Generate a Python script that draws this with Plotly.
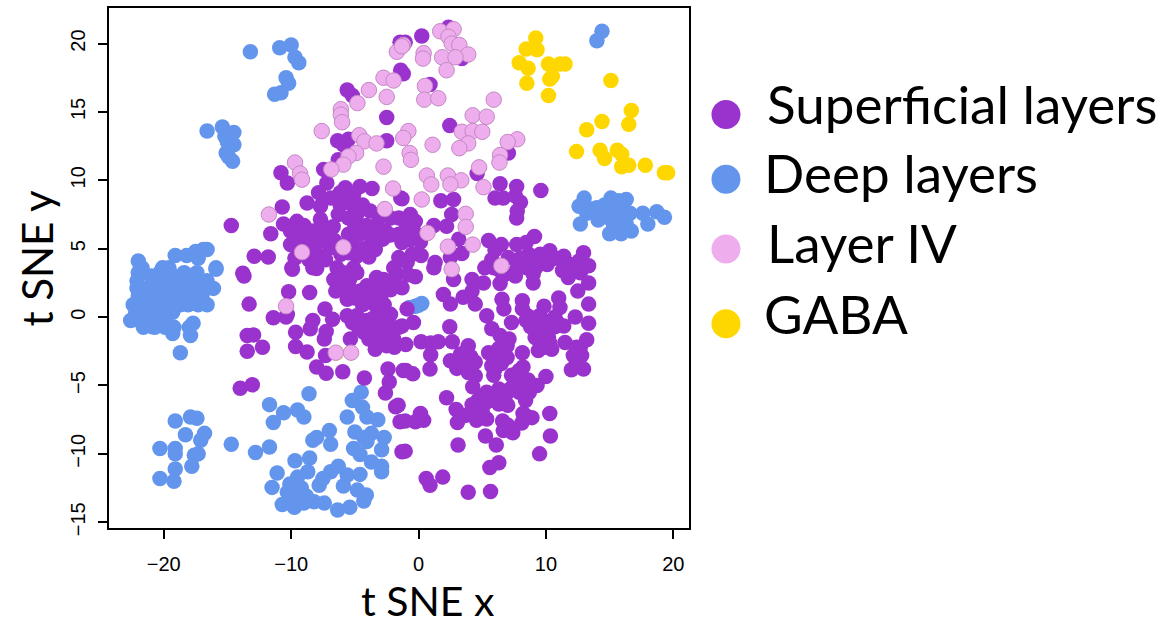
import plotly.graph_objects as go

superficial = [
(-5.6,16.6),(-5.2,16.2),(-2.5,14.6),(-2.5,12.9),(-6.35,12.9),(-5.5,13),(-5.9,12.6),(-6.3,11.5),(-7.45,10.8),
(-10.8,10.55),(-10.3,9.8),(-10.7,8.05),(-14.7,6.7),(-11.6,6.1),(-12.9,4.45),(-11.8,4.4),(-13.8,3.2),(-13.7,3.0),
(-7.2,9.8),(-7.85,9.1),(-8.75,8.35),(-7.7,8.1),(-5.75,9.45),(-4.6,9.55),(-3.65,9.4),(-5.1,8.95),(-6.15,9.1),
(-6.15,8.2),(-5.1,8.1),(-3.8,7.75),(-6.3,7.5),(-5.5,7.25),(-4.85,7.5),(-7.7,7.15),(-9.55,7),(-10.6,6.8),
(-10.05,6.3),(-9.3,6.05),(-8.25,6.3),(-7.6,6.8),(-3.25,6.8),(-2.6,6.3),(-2.2,7.25),(-1.55,7.25),(-1.55,6.05),
(-10.05,5.3),(-8.25,5.3),(-7.2,6.05),(-6.95,5.05),(-5.5,6.05),(-4.6,6.05),(-3.65,5.55),(-3.4,4.95),(-4.85,4.45),
(-8.6,4.2),(-7.95,4.6),(-9.95,3.6),(-8.3,3.6),(-6.4,3.6),(-5.1,3.6),(-1.55,4.35),(-1.95,3.6),(-1.4,8.7),
(-1.4,18.05),(-1.45,20.1),(-9.3,5.6),(-8.9,4.9),(-5.2,5.3),(-6.1,4.6),(-2.8,5.7),(-9.7,4.3),(-3.0,7.4),(-2.2,6.0),
(-6.9,8.7),(-5.7,8.4),(-4.4,8.2),(-6.7,6.6),(-5.0,6.7),(-4.1,6.7),(-3.6,6.2),(-9.0,6.7),(-8.8,5.9),(-9.6,5.2),
(-7.7,5.6),(-6.6,5.6),(-4.3,5.0),(-5.5,4.7),(-7.3,4.2),(-3.9,4.4),
(0.25,20.55),(2.35,21.2),(-1.05,20.1),(-1.2,17.8),(0.9,17),(3.4,18.9),(2.45,14),(7.05,12),(4.6,10.5),(6.4,9.75),
(7.7,9.55),(6,8.7),(6.65,8.7),(7.6,8.85),(8,8.4),(7.75,7.75),(7.7,7.25),(9.6,9.25),(-1.3,8.65),(1.75,8.5),
(2.75,8.6),(2.6,7.5),(2.2,6.65),(1.2,6.7),(-0.65,7.5),(-0.25,7),(-1.05,7),(-1.05,6.3),(-0.65,5.65),(0.15,5.5),
(-1.3,5.45),(3.15,5.7),(2.5,4.35),(3.4,4.65),(1.3,4),(-0.9,4),(5.5,5.6),(6.5,5.3),(7.7,5.3),(8.45,5.45),(9.1,5.9),
(8.65,4.6),(9.55,4.6),(10.3,4.85),(11.4,4.45),(12.95,4.7),(5.75,4.2),(7.05,4.35),(8.5,3.6),(7.7,3.5),(10.1,3.85),
(11.9,3.85),(13.35,3.75),(5.9,3.6),(-0.6,6.6),(-0.2,6.1),(9.0,4.1),(6.7,3.1),(-0.5,4.6),
(6.0,4.9),(5.2,3.6),(6.4,3.4),(8.0,4.3),(9.2,3.6),(10.7,4.3),(11.3,3.4),(12.6,4.1),
(-9.9,3.5),(-8,3.55),(-10.2,1.85),(-8.55,1.8),(-13.3,0.95),(-10.3,0.2),(-11.4,-0.05),(-9.65,-1.1),(-8.3,-0.25),
(-8.5,-0.85),(-7.35,0.6),(-6.75,-0.15),(-7.25,-1.05),(-7.4,-1.6),(-9.65,-2.15),(-8.75,-2.55),(-7.3,-2.8),(-8,-3.65),
(-7.25,-4.1),(-5.95,-4.0),(-4.25,-4.45),(-13.45,-1.35),(-12.95,-1.3),(-12.25,-2.2),(-13.45,-2.5),(-14,-5.2),
(-13.05,-4.95),(-2.4,-3.8),(-2.3,-4.75),(-2.6,-5.55),(-1.8,-6.55),(-1.45,-7.65),(-1.3,-9.85),(-1.2,-3.9),
(-6.65,2.75),(-5.9,3.25),(-4.85,3.25),(-6.5,1.9),(-5.5,2.3),(-5.6,1.3),(-4.05,2.3),(-3.8,1.45),(-2.75,2.75),
(-2.2,2),(-1.7,3.15),(-3.15,0.6),(-2.2,0.2),(-5.6,0.1),(-4.85,0.1),(-4.05,-0.25),(-5.35,-1.6),(-4.3,-1.1),(-3,-1.35),
(-1.95,-1.6),(-3.4,-2.35),(-2.5,-2.1),(-2.75,-0.5),(-1.55,-0.75),(-3.5,0.95),(-3.3,2.9),(-4.6,1.9),(-6.2,2.4),
(-4.4,-0.6),(-3.2,-0.4),(-2.9,1.7),(-10.4,0.0),
(-6.2,3.0),(-5.4,2.8),(-6.0,2.1),(-5.0,1.4),(-3.1,2.3),(-2.4,2.6),(-1.9,2.3),(-3.4,1.4),(-4.4,0.9),(-2.7,0.9),
(-2.8,0.1),(-3.6,-0.1),(-5.2,-0.4),(-4.7,-0.8),(-3.6,-0.9),(-2.5,-1.3),(-2.2,-0.7),(-3.0,-2.0),(-3.9,-1.6),(-1.9,-2.2),
(-0.25,2.95),(-1.3,2.15),(1.2,3.6),(2.75,2.75),(1.95,1.65),(2.5,0.95),(3.5,1.45),(4.2,1.9),(4.2,2.75),(5.1,2.5),
(4.45,0.95),(6.4,2.45),(7.6,3),(9,3.15),(9,2.5),(11.75,2.9),(12.7,3.25),(13.35,2.5),(12.5,1.9),(13.35,0.95),
(13.35,-0.45),(13.2,-1.65),(6.55,1.3),(8.15,1.2),(9.85,0.8),(11,1.4),(11.1,0.7),(12.3,0.0),(5.35,0.1),(6.7,0.6),
(7.3,-0.4),(8.15,0.6),(8.45,-0.25),(10.7,0),(11.4,-0.65),(9.7,-0.65),(9.15,-1.5),(10.2,-1.5),(5.75,-0.85),(6.4,-1.35),
(6.95,-2.1),(2.45,-0.7),(-1.3,-0.65),(0.2,-1.8),(1.55,-1.8),(0.95,-2.75),(2.65,-1.8),(3.9,-2.1),(3.3,-2.7),(2.5,-3.2),
(3,-3.75),(4.45,-3.3),(3.9,-4.05),(4.45,-4.3),(4.25,-5.1),(5.5,-2.6),(6.95,-2.95),(5.75,-3.55),(5.9,-4.25),(8.15,-2.6),
(9.4,-2.45),(10.45,-2.35),(11.5,-1.85),(12.7,-2.2),(12.15,-2.8),(12.8,-2.8),(12,-3.85),(12.95,-3.8),(12.4,-3.4),
(-1,-3.9),(-0.45,-4.15),(0.9,-3.8),(8.2,-3.65),(7.3,-4.25),(8.1,-4.5),(10,-4.35),(9.3,-5),(8.4,-5),(7.2,-5.25),
(6.3,-5.25),(5.35,-5.5),(4.65,-6.1),(5.35,-6.2),(6.3,-6.35),(7,-6.45),(8.4,-6.1),(2.2,-5.9),(2.95,-6.75),(3.65,-7.2),
(3.05,-7.7),(4.55,-7.55),(5.35,-7.45),(4.85,-6.8),(8.2,-7.05),(8.9,-7.35),(8.1,-7.75),(10.3,-7.05),(6.6,-7.6),
(6.65,-8.3),(7.4,-8.45),(5.25,-8.7),(6.1,-9.35),(3.1,-9.35),(10.35,-8.7),(9.5,-10),(-1.05,-9.8),(6.3,-10.65),
(5.6,-11),(1.9,-11.7),(0.6,-11.8),(0.9,-12.3),(3.9,-12.8),(5.65,-12.75),(0.15,-7.05),(0.4,-7.55),(-0.25,-7.65),
(-1.05,-7.6),(-1.6,-6.45),(0.95,-1.9),(10.9,-0.4),(9.5,0.1),(-1.0,-2.0),(-0.9,0.6),(-0.4,-0.4),(-0.8,3.1),(0.2,4.5),
(3.6,-2.6),(4.1,-2.9),(4.0,-3.5),(3.5,-3.4),(5.9,-3.0),(6.2,-2.7),(6.0,-3.8),(6.5,-3.4),(7.5,-4.9),(7.9,-5.5),
(6.9,-5.6),(5.9,-5.7),(5.0,-5.8),(5.7,-6.0),(5.0,-6.6),(4.4,-7.0),(5.0,-7.0),(4.2,-6.4),(8.7,-5.5),(8.5,-5.6),
(8.6,-4.6),(7.9,-3.9),(8.4,-7.2),(9.9,-0.8),(9.6,-1.3),(9.3,-1.0),(10.0,-0.3),(10.7,-0.7),(10.3,-1.9),(9.9,-2.2),
(12.6,-3.0),(12.6,-3.6),(12.4,-2.2),(7,-7.9),(6.3,-2.3),(7.1,-1.6),(8.55,0.1),(8.8,-0.7),
]

deep = [
(-13.2,19.4),(-10.9,19.7),(-10.0,19.9),(-9.7,19.0),(-9.4,18.6),(-10.4,17.5),(-10.2,17.1),(-10.8,16.4),(-11.3,16.3),
(-16.6,13.6),(-15.4,13.9),(-14.5,13.5),(-15.2,13.2),(-14.5,12.6),(-15.1,12.0),(-14.6,11.4),(-14.9,11.7),(-15.0,12.8),
(14.4,20.9),(14.0,20.2),(13.0,8.7),(12.6,8.1),(12.7,6.8),(13.6,7.9),(14.1,7.1),(14.6,8.2),(15.1,8.7),(15.7,8.5),
(16.3,8.6),(15.3,7.7),(15.9,7.9),(16.6,7.6),(15.7,7.0),(16.3,6.8),(16.7,6.3),(15.9,6.1),(15.0,6.1),(15.3,6.5),
(17.6,7.6),(18.0,6.8),(18.7,7.7),(19.3,7.3),(14.5,7.5),(14,8.0),(15,7.2),(16,7.3),(15.3,6.9),(13.2,7.6),
(-22.0,4.1),(-21.7,3.6),(-19.1,4.5),(-20.1,3.6),(-19.6,3.6),(-18.2,4.5),(-17.5,4.8),(-16.9,4.95),(-16.6,4.95),
(-17.3,4.3),(-15.9,3.6),(-22,3.25),(-20.3,3.25),(-19.5,3.25),(-18.4,3.25),(-17.4,3.25),(-22.1,2.65),(-20.7,2.65),
(-19.7,2.65),(-18.7,2.65),(-17.9,2.65),(-16.6,2.65),(-22.1,2.1),(-21.3,2.1),(-20.3,2.1),(-19.2,2.1),(-18.2,2.1),
(-17.2,2.1),(-16.1,2.1),(-22,1.55),(-21,1.55),(-20,1.55),(-19,1.55),(-18,1.55),(-22.4,0.9),(-21.6,0.9),(-20.7,0.9),
(-19.7,0.9),(-18.7,0.9),(-18.1,0.9),(-16.6,0.9),(-17.3,0.9),(-22.2,0.35),(-21.3,0.35),(-20.4,0.35),(-19.3,0.35),
(-22.6,-0.25),(-21.9,-0.25),(-20.8,-0.25),(-19.9,-0.25),(-21.6,-0.75),(-20.7,-0.75),(-19.9,-0.75),(-19.2,-0.75),
(-19.3,-1.2),(-17.7,-0.45),(-18,-0.75),(-17.9,-1.35),(-18.7,-2.6),(-15.9,3.5),
(-21.0,3.0),(-21.5,1.0),(-18.0,3.0),(-17.1,2.6),(-17,1.6),(-17.0,1.3),(-20.9,-0.7),(-21.2,-0.3),
(-19.1,-7.6),(-17.9,-7.3),(-17.4,-7.4),(-18.3,-8.6),(-16.8,-8.5),(-17.1,-9.0),(-20.3,-9.6),(-19.1,-9.6),(-19.1,-10.0),
(-17.6,-10.1),(-17.3,-10.0),(-19.1,-11.1),(-17.8,-10.9),(-20.3,-11.8),(-19.2,-12.0),(-14.7,-9.3),(-12.8,-9.9),
(-11.7,-9.5),(-8.6,-5.6),(-11.7,-6.4),(-10.6,-7.0),(-11.4,-7.7),(-9.5,-6.8),(-9.0,-7.3),(-4.5,-5.5),(-5.2,-6.1),
(-4.4,-6.6),(-5.6,-7.3),(-4.05,-7.3),(-3.2,-7.5),(-7,-8.3),(-8.0,-8.8),(-8.3,-9.0),(-6.9,-9.3),(-5,-8.4),(-4.3,-8.8),
(-3.7,-8.5),(-2.7,-8.8),(-2.9,-9.7),(-5.1,-9.6),(-4.6,-10.05),(-4.05,-9.1),(-3.7,-10.6),(-2.9,-10.9),(-2.9,-11.3),
(-9.7,-10.5),(-8.55,-10.3),(-8.7,-11.3),(-11.1,-11.4),(-11.5,-12.45),(-9.5,-11.7),(-10.1,-12.2),(-9.2,-12.5),
(-9.8,-13),(-10.7,-13.7),(-9.75,-13.9),(-9,-13.6),(-8.2,-13.5),(-7.4,-13.6),(-8.8,-13.1),(-7.8,-12.3),(-7.5,-11.8),
(-6.9,-11.3),(-6.3,-10.9),(-5.6,-11.55),(-4.6,-11.5),(-5.9,-12.35),(-4.8,-12.65),(-4.1,-13),(-4.3,-13.45),
(-5.4,-13.9),(-6.35,-14.1),(-10.3,-12.8),(-0.7,0.7),(-0.25,0.8),(0.25,1.0),(0,0.87),
]

gaba = [
(9.2,20.4),(8.45,19.6),(9.3,19.55),(7.9,18.6),(8.6,18.2),(10.2,18.5),(11.1,18.5),(11.5,18.5),(10.3,17.4),(10.5,17.6),
(8.5,17.1),(10.2,16.2),(15.1,17.3),(16.7,15.1),(16.5,14.1),(14.4,14.3),(13.2,13.7),(12.4,12.1),(14.25,12.2),
(14.6,11.6),(15.6,12.2),(15.95,11.9),(15.95,11.0),(16.5,11.1),(17.8,11.1),(19.3,10.55),(19.55,10.55),(-6.45,-2.6),
]

layer_iv = [
(-3.9,16.6),(-4.8,15.65),(-2.5,16.1),(-2.75,17.5),(-1.96,17.3),(-1.7,19.4),(-1.2,19.9),(-6.1,15.2),(-6.1,14.8),
(-6,14.25),(-7.6,13.6),(-4.65,13.3),(-4.25,12.85),(-3.3,12.7),(-2.75,11.0),(-4.9,12),(-5.5,11.75),(-5.9,11.15),
(-6.85,10.8),(-9.7,11.3),(-9.3,10.5),(-9.15,10.05),(-2.0,9.4),(-2.65,7.9),(-11.75,7.5),(-9.15,4.75),(-5.9,5.1),
(-10.4,0.8),(-6.5,-2.6),(-5.3,-2.6),
(1.7,20.9),(2.75,21.05),(2.35,20.5),(2.6,20),(3.2,19.9),(3.9,19.2),(1.85,19),(2.9,19),(2.2,18.05),(0.4,19.3),(0.35,18.9),
(-1.3,19.8),(0.5,16.9),(0.45,15.9),(1.55,16),(5.9,15.9),(4.25,14.75),(5.35,14.65),(-0.8,13.6),(-1.2,13.1),(1.1,12.6),
(-0.7,12),(-0.6,11.5),(3.4,13.55),(4.25,13.6),(5,13.55),(3.9,12.7),(3.2,12.35),(7.75,13),(7,12.8),(6.4,11.85),
(6.35,11.3),(4.75,10.95),(0.65,10.35),(1,9.7),(2.3,10.35),(3.35,10),(2.5,9.7),(5.1,9.5),(0.25,8.6),(3.7,7.55),
(3.7,6.6),(0.7,6.15),(4.25,5.3),(2.3,5.15),(2.6,3.5),(6.5,3.75),
]

group_names = ["Superficial layers", "Deep layers", "Layer IV", "GABA"]
group_colors = ["#9A32CD", "#6495ED", "#EEAEEE", "#FFD700"]
x_ticks = [-20, -10, 0, 10, 20]
y_ticks = [-15, -10, -5, 0, 5, 10, 15, 20]
x_title = "t SNE x"
y_title = "t SNE y"

W, H = 1175, 626
L, R, T, B = 108.5, 689.0, 6.0, 528.0
FONT = "Lato"

def px(v):
    return (v - L) / (R - L)

def py(v):
    return (B - v) / (B - T)

fig = go.Figure()
draw = [(deep, 1), (superficial, 0), (gaba, 3), (layer_iv, 2)]
for pts, i in draw:
    line = dict(width=1, color="#C488C4") if i == 2 else dict(width=0)
    fig.add_trace(go.Scatter(
        x=[p[0] for p in pts], y=[p[1] for p in pts], mode="markers", name=group_names[i],
        marker=dict(size=15.5, color=group_colors[i], line=line), showlegend=False,
    ))

annotations = [
    dict(text=x_title, x=px(427), y=py(601), xref="paper", yref="paper", showarrow=False,
         xanchor="center", yanchor="middle", font=dict(family=FONT, size=41, color="black")),
    dict(text=y_title, x=px(36), y=py(257), xref="paper", yref="paper", showarrow=False, textangle=-90,
         xanchor="center", yanchor="middle", font=dict(family=FONT, size=42, color="black")),
]
shapes = []
legend_y = [113, 178, 248, 323]
label_y = [102, 171, 241, 313]
label_x = [765, 762, 765, 762]
for i, name in enumerate(group_names):
    shapes.append(dict(type="circle", xref="paper", yref="paper", xsizemode="pixel", ysizemode="pixel",
                       xanchor=px(726), yanchor=py(legend_y[i]), x0=-14.5, x1=14.5, y0=-14.5, y1=14.5,
                       fillcolor=group_colors[i], line=dict(width=0)))
    annotations.append(dict(text=name, x=px(label_x[i]), y=py(label_y[i]), xref="paper", yref="paper",
                            xanchor="left", yanchor="middle", showarrow=False,
                            font=dict(family=FONT, size=53, color="black")))

axis_common = dict(showgrid=False, zeroline=False, showline=True, linecolor="black", linewidth=2, mirror=True,
                   ticks="outside", ticklen=9, tickwidth=2, tickcolor="black",
                   tickfont=dict(family="Liberation Sans", size=20, color="black"))
fig.update_layout(
    width=W, height=H, autosize=False, paper_bgcolor="white", plot_bgcolor="white",
    margin=dict(l=L, r=W - R, t=T, b=H - B, pad=0),
    xaxis=dict(range=[-24.3, 21.23], tickmode="array", tickvals=x_ticks, ticklabelstandoff=8, **axis_common),
    yaxis=dict(range=[-15.42, 22.6], tickmode="array", tickvals=y_ticks, tickangle=-90, ticklabelstandoff=5, **axis_common),
    annotations=annotations, shapes=shapes,
)
fig.write_html("out.html", config={"displayModeBar": False}, post_script="document.body.style.margin='0';")
